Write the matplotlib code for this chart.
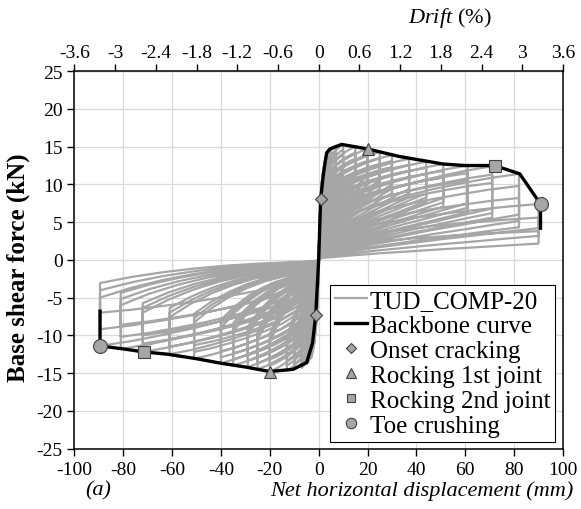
import numpy as np
import matplotlib
matplotlib.use("Agg")
import matplotlib.pyplot as plt

plt.rcParams["font.family"] = ["Liberation Serif", "DejaVu Serif"]
plt.rcParams["axes.unicode_minus"] = False
plt.rcParams["mathtext.fontset"] = "custom"
plt.rcParams["mathtext.rm"] = "Liberation Serif"
plt.rcParams["mathtext.it"] = "Liberation Serif:italic"

# --- backbone curve (mm, kN) ---
BACKBONE_X = [-89.5, -89.5, -80, -71.5, -62, -50, -40, -30, -20, -10.4, -4.9, -2.5,
              -1.2, -0.5, 0, 0.4, 0.8, 1.8, 2.6, 3.3, 4.6, 9.4, 20, 33, 51, 60, 72,
              82.3, 90.8, 90.8]
BACKBONE_Y = [-6.8, -11.4, -11.8, -12.2, -12.5, -13.1, -13.7, -14.2, -14.8, -14.5, -13.6, -11.0,
              -7.3, -3.0, 0.0, 4.0, 8.0, 11.0, 12.9, 14.2, 14.7, 15.3, 14.7, 13.7, 12.7, 12.5, 12.5,
              11.4, 7.4, 4.2]

# damage-state markers
CRACK_X, CRACK_Y = [0.8, -1.2], [8.0, -7.3]
ROCK1_X, ROCK1_Y = [20, -20], [14.7, -14.8]
ROCK2_X, ROCK2_Y = [72, -71.5], [12.5, -12.2]
TOE_X, TOE_Y = [90.8, -89.5], [7.4, -11.4]

# --- hysteresis cycles: per amplitude, 3 cycles each ---
POS_AMP = [1, 2, 3, 5, 7, 10, 15, 20, 25, 30, 37, 44, 51, 61, 71, 82, 90]
POS_PEAK = [7.5, 12.0, 13.8, 14.8, 15.1, 15.3, 15.0, 14.7, 14.3, 13.9, 13.4, 13.0, 12.7, 12.5, 12.4, 11.4, 7.4]
POS_KNEE = [7.5, 12.0, 13.8, 13.5, 12.8, 12.0, 11.2, 10.5, 9.8, 9.0, 8.2, 7.4, 6.6, 5.6, 4.6, 3.5, 2.4]
POS_DROP = [6.5, 10.5, 12.0, 12.8, 12.6, 12.3, 11.8, 11.2, 10.6, 10.0, 9.4, 8.8, 8.2, 7.5, 6.8, 6.0, 4.2]
POS_UKNEE = [6.5, 10.5, 12.0, 9.0, 7.5, 6.5, 5.5, 4.8, 4.2, 3.6, 3.0, 2.5, 2.0, 1.6, 1.2, 0.9, 0.6]
POS_LOSS = [0.2, 0.3, 0.4, 0.5, 0.6, 0.7, 0.8, 0.8, 0.8, 0.8, 0.8, 0.8, 0.9, 1.0, 1.1, 1.6, 1.8]

NEG_AMP = [1, 2, 3, 5, 7, 10, 13, 20, 25, 29, 35, 40, 51, 61, 72, 81, 89.5]
NEG_PEAK = [-7.0, -11.0, -13.0, -13.8, -14.3, -14.5, -14.7, -14.8, -14.5, -14.2, -14.0, -13.7, -13.1, -12.5, -12.2, -11.8, -11.4]
NEG_KNEE = [-7.0, -11.0, -13.0, -12.5, -11.8, -11.0, -10.2, -9.4, -8.6, -7.8, -7.0, -6.2, -5.4, -4.6, -3.8, -3.0, -2.2]
NEG_DROP = [-6.0, -9.5, -11.5, -12.0, -12.0, -11.8, -11.5, -11.0, -10.5, -10.0, -9.5, -9.0, -8.3, -7.6, -7.0, -6.0, -5.0]
NEG_UKNEE = [-6.0, -9.5, -11.5, -8.0, -6.5, -5.5, -4.8, -4.0, -3.4, -2.8, -2.3, -1.9, -1.5, -1.2, -0.9, -0.6, -0.3]
NEG_LOSS = [0.2, 0.3, 0.4, 0.5, 0.6, 0.7, 0.7, 0.8, 0.8, 0.8, 0.8, 0.8, 0.9, 1.0, 1.1, 1.6, 2.2]

# branch shapes read from the loops (fractions between knee at 3 mm and peak)
KNEE_X = 3.0
RISE_X = [0.0, 0.4, 1.0, 1.8, 3.0]
RISE_F = [0.0, 0.30, 0.62, 0.86, 1.0]
LOAD_T = [0.05, 0.12, 0.25, 0.40, 0.55, 0.70, 0.85, 1.0]
LOAD_G = [0.15, 0.30, 0.48, 0.62, 0.74, 0.84, 0.93, 1.0]
POS_UNL_G = [0.06, 0.15, 0.30, 0.45, 0.60, 0.73, 0.87, 1.0]
NEG_UNL_G = [0.02, 0.05, 0.11, 0.20, 0.33, 0.50, 0.72, 1.0]

DRIFT_TICKS = [-3.6, -3, -2.4, -1.8, -1.2, -0.6, 0, 0.6, 1.2, 1.8, 2.4, 3, 3.6]
X_TICKS = list(range(-100, 101, 20))
Y_TICKS = list(range(-25, 26, 5))


def branch(D, F, K, shape_g):
    """Path from the origin to (D, F) through the knee force K at 3 mm."""
    if D <= KNEE_X:
        xs = [x / KNEE_X * D for x in RISE_X]
        fs = [f * F for f in RISE_F]
    else:
        xs = RISE_X + [KNEE_X + t * (D - KNEE_X) for t in LOAD_T]
        fs = [f * K for f in RISE_F] + [K + g * (F - K) for g in shape_g]
    return xs, fs


xs_all, ys_all = [], []
for i in range(len(POS_AMP)):
    for r in range(3):
        # strength loss on repeated cycles, knees lose in proportion
        kp = 1 - r * POS_LOSS[i] / POS_PEAK[i]
        kn = 1 - r * NEG_LOSS[i] / -NEG_PEAK[i]
        x1, y1 = branch(POS_AMP[i], POS_PEAK[i] * kp, POS_KNEE[i] * kp, LOAD_G)
        x2, y2 = branch(POS_AMP[i], POS_DROP[i] * kp, POS_UKNEE[i] * kp, POS_UNL_G)
        x3, y3 = branch(NEG_AMP[i], NEG_PEAK[i] * kn, NEG_KNEE[i] * kn, LOAD_G)
        x4, y4 = branch(NEG_AMP[i], NEG_DROP[i] * kn, NEG_UKNEE[i] * kn, NEG_UNL_G)
        xs_all += x1 + x2[::-1] + [-x for x in x3] + [-x for x in x4[::-1]] + [np.nan]
        ys_all += y1 + y2[::-1] + y3 + y4[::-1] + [np.nan]

fig = plt.figure(figsize=(5.81, 5.10), dpi=100)
ax = fig.add_axes([0.128, 0.1186, 0.841, 0.7398])

ax.grid(True, color="#d9d9d9", lw=0.9)
ax.set_axisbelow(True)

ax.plot(xs_all, ys_all, color="#a6a6a6", lw=1.6, label="TUD_COMP-20", zorder=2,
        solid_joinstyle="round")
ax.plot(BACKBONE_X, BACKBONE_Y, color="black", lw=2.4, label="Backbone curve", zorder=3)

mk = dict(ls="none", mfc="#a6a6a6", mec="#404040", mew=0.8, zorder=4)
ax.plot(CRACK_X, CRACK_Y, marker="D", ms=6.5, label="Onset cracking", **mk)
ax.plot(ROCK1_X, ROCK1_Y, marker="^", ms=9, label="Rocking 1st joint", **mk)
ax.plot(ROCK2_X, ROCK2_Y, marker="s", ms=8, label="Rocking 2nd joint", **mk)
ax.plot(TOE_X, TOE_Y, marker="o", ms=10, label="Toe crushing", **mk)

ax.set_xlim(-100, 100)
ax.set_ylim(-25, 25)
ax.set_xticks(X_TICKS)
ax.set_yticks(Y_TICKS)
ax.tick_params(axis="both", direction="out", length=5, width=1, labelsize=14, colors="black")
ax.tick_params(axis="x", pad=4)
for s in ax.spines.values():
    s.set_linewidth(1.1)

top = ax.secondary_xaxis("top", functions=(lambda x: x * 3.6 / 100, lambda d: d * 100 / 3.6))
top.set_xticks(DRIFT_TICKS)
top.set_xticklabels(["%g" % d for d in DRIFT_TICKS])
top.tick_params(direction="out", length=5, width=1, labelsize=14, pad=2)

leg = ax.legend(loc="lower right", bbox_to_anchor=(0.984, 0.017), fontsize=18,
                frameon=True, fancybox=False, edgecolor="black", framealpha=1,
                handlelength=1.3, handletextpad=0.1, labelspacing=0.1,
                borderpad=0.2, borderaxespad=0, markerscale=0.75)
leg.get_frame().set_linewidth(0.8)

fig.text(18 / 581, 1 - 268 / 510, "Base shear force (kN)", rotation=90, fontsize=18,
         fontweight="bold", ha="center", va="center")
fig.text(450 / 581, 1 - 18 / 510, r"$\mathit{Drift}$ (%)", fontsize=16, ha="center", va="center")
fig.text(573 / 581, 1 - 491 / 510, "Net horizontal displacement (mm)", fontsize=16,
         style="italic", ha="right", va="center")
fig.text(98 / 581, 1 - 491 / 510, "(a)", fontsize=16, style="italic", ha="center", va="center")

fig.savefig("out.png", dpi=100)
